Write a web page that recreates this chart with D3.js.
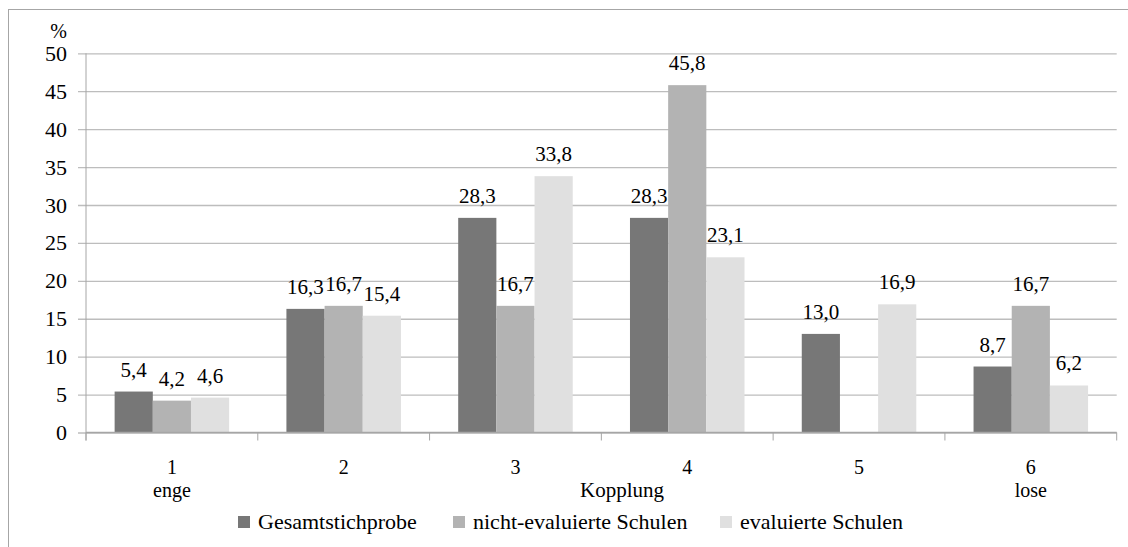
<!DOCTYPE html>
<html><head><meta charset="utf-8">
<script src="https://cdn.jsdelivr.net/npm/d3@7"></script>
<style>
html,body{margin:0;padding:0;background:#fff;}
svg{display:block;}
</style></head>
<body>
<svg id="chart" width="1128" height="547"></svg>
<script>
const categories = ["1","2","3","4","5","6"];
const categorySubLabels = ["enge","","","","","lose"];
const seriesNames = ["Gesamtstichprobe","nicht-evaluierte Schulen","evaluierte Schulen"];
const gesamt = [5.4,16.3,28.3,28.3,13.0,8.7];
const nichtEvaluiert = [4.2,16.7,16.7,45.8,null,16.7];
const evaluiert = [4.6,15.4,33.8,23.1,16.9,6.2];
const yTicks = [0,5,10,15,20,25,30,35,40,45,50];
const axisTitle = "Kopplung";
const yUnit = "%";

const seriesValues = [gesamt, nichtEvaluiert, evaluiert];
const colors = ["#777777","#b3b3b3","#e0e0e0"];

// pick first installed serif family
const candidates = ["Liberation Serif","Times New Roman","Tinos","Nimbus Roman","Nimbus Roman No9 L","Times","DejaVu Serif","Noto Serif","FreeSerif"];
const ctx = document.createElement("canvas").getContext("2d");
function w(f){ ctx.font = "40px " + f; return ctx.measureText("Gesamtstichprobe mwiIl 0123").width; }
let FONT = "serif";
for (const c of candidates) {
  const q = "'" + c + "'";
  if (w(q + ", monospace") !== w("monospace") || w(q + ", sans-serif") !== w("sans-serif")) { FONT = q + ", serif"; break; }
}

const svg = d3.select("#chart").style("font-family", FONT);
const plotL = 86, plotR = 1116.7, plotT = 53.3, plotB = 432.5;

// chart border (left & top visible)
svg.append("rect").attr("x",8.5).attr("y",9.5).attr("width",1300).attr("height",700)
  .attr("fill","none").attr("stroke","#a6a6a6").attr("stroke-width",1);

const x = d3.scaleBand().domain(categories).range([plotL,plotR]).paddingInner(1/3).paddingOuter(1/6);
const xs = d3.scaleBand().domain(d3.range(seriesNames.length)).range([0,x.bandwidth()]);
const y = d3.scaleLinear().domain([0,50]).range([plotB,plotT]);

// gridlines + y ticks
const yAxis = d3.axisLeft(y).tickValues(yTicks).tickSize(-(plotR-plotL)).tickFormat(d=>d);
const yg = svg.append("g").attr("transform",`translate(${plotL},0)`).call(yAxis);
yg.attr("font-family", null);
yg.select(".domain").remove();
yg.selectAll(".tick line").attr("x1",-8).attr("stroke","#bdbdbd").attr("stroke-width",1.3);
yg.selectAll(".tick text").attr("x",-19).attr("font-size",22).attr("fill","#000").style("font-family",FONT);

// y axis line
svg.append("line").attr("x1",plotL).attr("x2",plotL).attr("y1",plotT).attr("y2",plotB+8)
  .attr("stroke","#a6a6a6").attr("stroke-width",1);

// bars
const groups = svg.append("g").selectAll("g").data(categories).join("g")
  .attr("transform",d=>`translate(${x(d)},0)`);
seriesValues.forEach((vals,si)=>{
  groups.each(function(c,ci){
    const v = vals[ci];
    if(v===null) return;
    d3.select(this).append("rect")
      .attr("x",xs(si)).attr("width",xs.bandwidth())
      .attr("y",y(v)).attr("height",y(0)-y(v)).attr("fill",colors[si]);
    d3.select(this).append("text")
      .attr("x",xs(si)+xs.bandwidth()/2).attr("y",y(v)-15)
      .attr("text-anchor","middle").attr("font-size",21).attr("fill","#000")
      .text(v.toFixed(1).replace(".",","));
  });
});

// x axis line and category ticks
svg.append("line").attr("x1",plotL).attr("x2",plotR).attr("y1",plotB).attr("y2",plotB)
  .attr("stroke","#a6a6a6").attr("stroke-width",1.3);
const step = x.step();
d3.range(categories.length+1).forEach(i=>{
  const xx = plotL + i*step;
  svg.append("line").attr("x1",xx).attr("x2",xx).attr("y1",plotB).attr("y2",plotB+8)
    .attr("stroke","#a6a6a6").attr("stroke-width",1);
});

// category labels
categories.forEach((c,i)=>{
  const cx = x(c)+x.bandwidth()/2;
  svg.append("text").attr("x",cx).attr("y",474).attr("text-anchor","middle")
    .attr("font-size",20).text(c);
  if(categorySubLabels[i]) svg.append("text").attr("x",cx).attr("y",497).attr("text-anchor","middle")
    .attr("font-size",20).text(categorySubLabels[i]);
});
svg.append("text").attr("x",622).attr("y",497).attr("text-anchor","middle")
  .attr("font-size",21).text(axisTitle);

// % unit
svg.append("text").attr("x",67).attr("y",38).attr("text-anchor","end").attr("font-size",20).text(yUnit);

// legend
const legendX = [238,453,720];
seriesNames.forEach((n,i)=>{
  svg.append("rect").attr("x",legendX[i]).attr("y",516).attr("width",12).attr("height",12).attr("fill",colors[i]);
  svg.append("text").attr("x",legendX[i]+20).attr("y",529).attr("font-size",22).text(n);
});
</script>
</body></html>
